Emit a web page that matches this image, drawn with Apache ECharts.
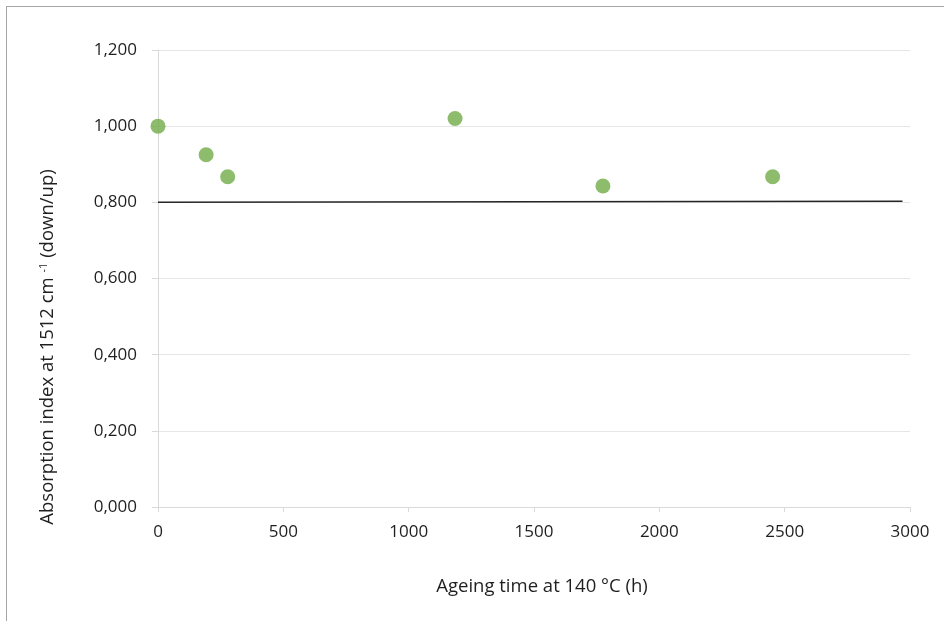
<!DOCTYPE html>
<html><head><meta charset="utf-8">
<script src="https://cdn.jsdelivr.net/npm/echarts@6/dist/echarts.min.js"></script>
<style>
html,body{margin:0;padding:0;background:#fff;}
#frame{position:absolute;left:6px;top:6px;width:938px;height:615px;border-left:1px solid #a6a6a6;border-top:1px solid #a6a6a6;box-sizing:border-box;}
#c{position:absolute;left:0;top:0;width:944px;height:621px;}
</style></head>
<body>
<div id="frame"></div>
<div id="c"></div>
<script>
const ageingHours = [0, 192, 278, 1185, 1775, 2452];
const absorptionIndex = [1.000, 0.925, 0.867, 1.020, 0.843, 0.867];
const trendX = [0, 2970];
const trendY = [0.800, 0.803];
const xTicks = [0, 500, 1000, 1500, 2000, 2500, 3000];
const yTicks = [0, 0.2, 0.4, 0.6, 0.8, 1.0, 1.2];

const font = '"Open Sans", "Liberation Sans", sans-serif';
const txt = '#1f1f1f';
const chart = echarts.init(document.getElementById('c'));
chart.setOption({
  animation: false,
  backgroundColor: 'transparent',
  grid: {left: 158, right: 34, top: 50, bottom: 114},
  graphic: [{
    type: 'text', x: 48, y: 347, rotation: Math.PI / 2,
    style: {
      text: '{a|Absorption index at 1512 cm }{s|-1}{a| (down/up)}',
      align: 'center', verticalAlign: 'middle',
      rich: {
        a: {fontFamily: font, fontSize: 18.5, fill: txt},
        s: {fontFamily: font, fontSize: 11, fill: txt, verticalAlign: 'top', padding: [0, 0, 8, 0]}
      }
    }
  }],
  xAxis: {
    type: 'value', min: 0, max: 3000, interval: 500,
    name: 'Ageing time at 140 °C (h)', nameLocation: 'middle', nameGap: 70,
    nameTextStyle: {fontFamily: font, fontSize: 18.5, color: txt, padding: [0, 0, 0, 16]},
    axisLine: {show: true, lineStyle: {color: '#d9d9d9', width: 1}},
    axisTick: {show: true, length: 5, lineStyle: {color: '#d9d9d9'}},
    axisLabel: {fontFamily: font, fontSize: 17, color: txt, margin: 17,
      formatter: v => String(v)},
    splitLine: {show: false}
  },
  yAxis: {
    type: 'value', min: 0, max: 1.2, interval: 0.2,
    axisLine: {show: true, lineStyle: {color: '#d9d9d9', width: 1}},
    axisTick: {show: true, inside: false, length: 6, lineStyle: {color: '#d9d9d9'}},
    axisLabel: {fontFamily: font, fontSize: 17, color: txt, margin: 21,
      formatter: v => v.toFixed(3).replace('.', ',')},
    splitLine: {show: true, lineStyle: {color: '#e6e6e6', width: 1}}
  },
  series: [
    {
      type: 'line', data: trendX.map((x, i) => [x, trendY[i]]),
      symbol: 'none', lineStyle: {color: '#262626', width: 1.5}, z: 2
    },
    {
      type: 'scatter', data: ageingHours.map((x, i) => [x, absorptionIndex[i]]),
      symbol: 'circle', symbolSize: 15, clip: false,
      itemStyle: {color: '#70ad47'}, z: 3
    }
  ]
});
</script>
</body></html>
